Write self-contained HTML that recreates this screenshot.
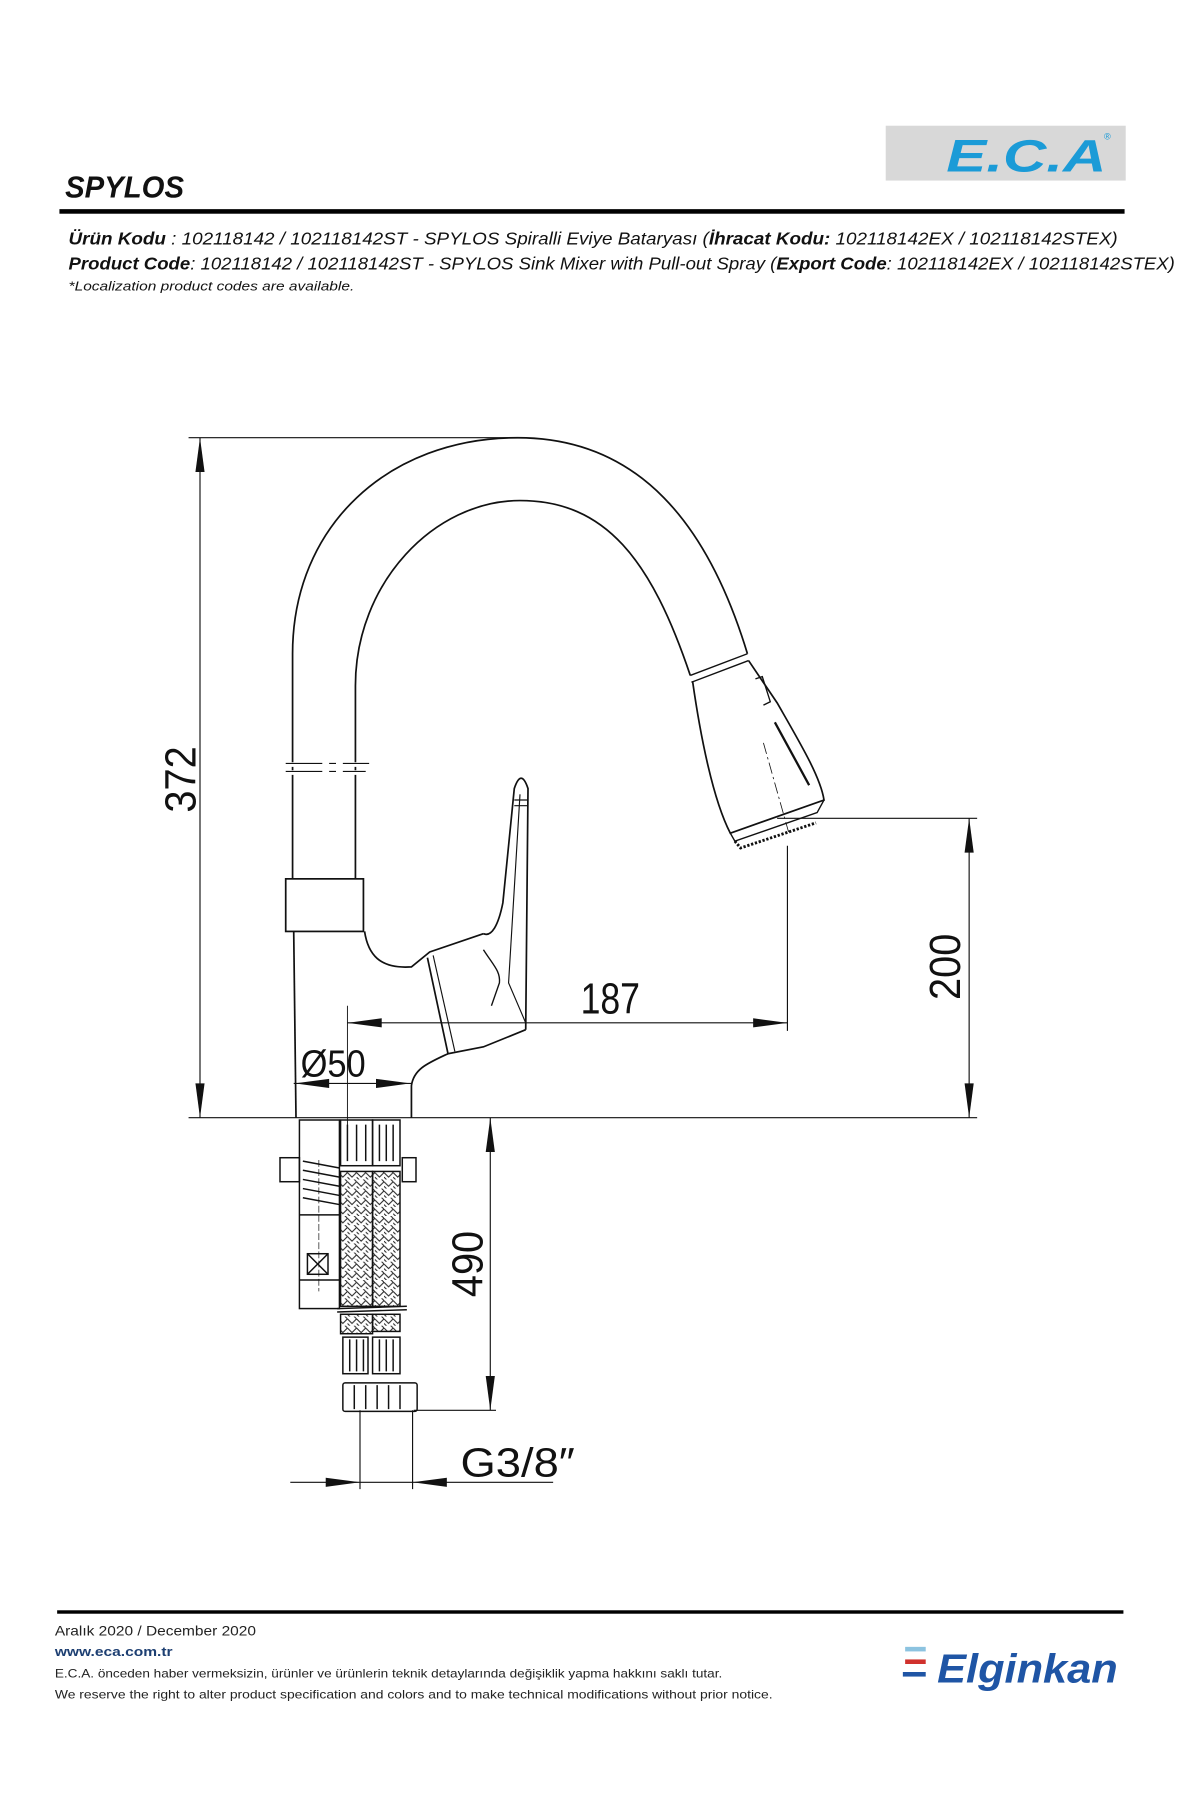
<!DOCTYPE html>
<html><head><meta charset="utf-8"><style>
html,body{margin:0;padding:0;background:#fff;}
svg{display:block;}
</style></head><body>
<svg width="1200" height="1800" viewBox="0 0 1050 1575" xmlns="http://www.w3.org/2000/svg" font-family="Liberation Sans, sans-serif">
<defs>
<pattern id="braid" width="8" height="8" patternUnits="userSpaceOnUse">
<path d="M0,2 L4,6 L8,2 M0,6 L4,10 M4,-2 L8,2" stroke="#222" stroke-width="0.9" fill="none"/>
</pattern>
</defs>
<!-- header -->
<rect x="775" y="110" width="210" height="48" fill="#d8d8d8"/>
<text x="828" y="150" font-size="40" font-weight="bold" font-style="italic" fill="#1b9bd7" textLength="140" lengthAdjust="spacingAndGlyphs">E.C.A</text>
<text x="966" y="122" font-size="8" fill="#1b9bd7">®</text>
<text x="57" y="173" font-size="27" font-weight="bold" font-style="italic" fill="#111" textLength="104" lengthAdjust="spacingAndGlyphs">SPYLOS</text>
<rect x="52" y="183" width="932" height="4" fill="#000"/>
<g font-size="15" font-style="italic" fill="#111">
<text x="60" y="214" textLength="918" lengthAdjust="spacingAndGlyphs"><tspan font-weight="bold">Ürün Kodu</tspan>    : 102118142 / 102118142ST - SPYLOS Spiralli Eviye Bataryası (<tspan font-weight="bold">İhracat Kodu:</tspan> 102118142EX / 102118142STEX)</text>
<text x="60" y="236" textLength="968" lengthAdjust="spacingAndGlyphs"><tspan font-weight="bold">Product Code</tspan>: 102118142 / 102118142ST - SPYLOS Sink Mixer with Pull-out Spray (<tspan font-weight="bold">Export Code</tspan>: 102118142EX / 102118142STEX)</text>
<text x="60" y="254" font-size="11" textLength="250" lengthAdjust="spacingAndGlyphs">*Localization product codes are available.</text>
</g>

<!-- drawing -->
<g stroke="#111" fill="none" stroke-width="1.5">
<!-- spout -->
<path d="M256,769 L256,572 C256,460 340,383 453,383 C560,383 620,460 654,572"/>
<path d="M311,769 L311,600 C311,510 380,438 455,438 C530,438 570,490 604,591"/>
<path d="M604,591 L654,572 M605,597 L655,578" stroke-width="1.2"/>
<path d="M606,596 C613,645 624,700 639,729 L721,700 C718,680 700,650 680,615 L655,578"/>
<path d="M639,729 L643,736 L715,711 L721,700" stroke-width="1.2"/>
<path d="M643,736 L648,742 L714,720" stroke-width="2.5" stroke-dasharray="2,1.5"/>
<path d="M661,594 L667,592 L674,614 L668,617" stroke-width="1.2"/>
<path d="M678,632 L708,687" stroke-width="2"/>
<path d="M668,650 L690,728" stroke-width="0.7" stroke-dasharray="10,3,2,3"/>
<!-- break marks -->
<path d="M250,669 L323,669 M250,676 L320,676" stroke="#fff" stroke-width="4"/>
<path d="M250,668 L282,668 M288,668 L294,668 M300,668 L323,668 M250,675 L282,675 M288,675 L294,675 M300,675 L320,675" stroke-width="1"/>
<!-- collar -->
<rect x="250" y="769" width="68" height="46"/>
<!-- body -->
<path d="M257,815 L259,978"/>
<path d="M319,815 C322,835 332,848 360,846 L376,833 L423,817"/>
<path d="M392,922 C375,930 362,935 360,950 L360,978"/>
<!-- hub -->
<path d="M374,838 L392,922 L423,916 L460,901"/>
<path d="M379,836 L398,920" stroke-width="1"/>
<!-- lever -->
<path d="M460,901 L462,690 Q456,672 450,690 L440,790 C436,810 430,820 423,817"/>
<path d="M423,831 C432,845 438,850 437,860 L430,880" stroke-width="1.2"/>
<path d="M455,695 L445,860 L460,895" stroke-width="1"/>
<path d="M450,700 L462,700 M450,705 L462,705" stroke-width="1"/>
<!-- centre line -->
<path d="M304,880 L304,1000" stroke-width="0.8"/>
</g>

<!-- below ground fittings -->
<g stroke="#111" fill="none" stroke-width="1.3">
<rect x="262" y="980" width="35" height="165"/>
<rect x="245" y="1013" width="17" height="21"/>
<rect x="352" y="1013" width="12" height="21"/>
<path d="M265,1016 L297,1022 M265,1024 L297,1030 M265,1032 L297,1038 M265,1040 L297,1046 M265,1048 L297,1054 M262,1063 L297,1063"/>
<rect x="269" y="1097" width="18" height="18"/>
<path d="M269,1097 L287,1115 M287,1097 L269,1115 M262,1120 L297,1120"/>
<path d="M279,1015 L279,1130" stroke-width="0.6" stroke-dasharray="6,2"/>
<!-- hoses -->
<rect x="298" y="980" width="28" height="40"/>
<rect x="326" y="980" width="24" height="40"/>
<path d="M304,984 L304,1016 M312,984 L312,1016 M320,984 L320,1016 M332,984 L332,1016 M338,984 L338,1016 M344,984 L344,1016"/>
<rect x="298" y="1025" width="28" height="118" fill="url(#braid)"/>
<rect x="326" y="1025" width="24" height="118" fill="url(#braid)"/>
<path d="M295,1145 L356,1143 M295,1148 L356,1146"/>
<rect x="298" y="1150" width="28" height="17" fill="url(#braid)"/>
<rect x="326" y="1150" width="24" height="15" fill="url(#braid)"/>
<rect x="300" y="1170" width="22" height="32"/>
<rect x="326" y="1170" width="24" height="32"/>
<path d="M306,1172 L306,1200 M312,1172 L312,1200 M318,1172 L318,1200 M332,1172 L332,1200 M338,1172 L338,1200 M344,1172 L344,1200"/>
<rect x="300" y="1210" width="65" height="25" rx="2"/>
<path d="M310,1212 L310,1233 M320,1212 L320,1233 M330,1212 L330,1233 M340,1212 L340,1233 M350,1212 L350,1233"/>
</g>

<!-- dimensions -->
<g stroke="#111" stroke-width="1" fill="none">
<path d="M165,383 L453,383"/>
<path d="M175,383 L175,978"/>
<path d="M165,978 L855,978"/>
<path d="M680,716 L855,716"/>
<path d="M848,716 L848,978"/>
<path d="M689,740 L689,902"/>
<path d="M304,895 L689,895"/>
<path d="M257,948 L360,948"/>
<path d="M429,978 L429,1234"/>
<path d="M362,1234 L434,1234"/>
<path d="M315,1234 L315,1303 M361,1234 L361,1303"/>
<path d="M254,1297 L484,1297"/>
</g>
<g fill="#111">
<path d="M175,383 L171,413 L179,413Z"/>
<path d="M175,978 L171,948 L179,948Z"/>
<path d="M848,716 L844,746 L852,746Z"/>
<path d="M848,978 L844,948 L852,948Z"/>
<path d="M304,895 L334,891 L334,899Z"/>
<path d="M689,895 L659,891 L659,899Z"/>
<path d="M258,948 L288,944 L288,952Z"/>
<path d="M359,948 L329,944 L329,952Z"/>
<path d="M429,978 L425,1008 L433,1008Z"/>
<path d="M429,1234 L425,1204 L433,1204Z"/>
<path d="M315,1297 L285,1293 L285,1301Z"/>
<path d="M361,1297 L391,1293 L391,1301Z"/>
</g>
<g font-size="38" fill="#111">
<text transform="translate(171,682) rotate(-90)" text-anchor="middle" textLength="58" lengthAdjust="spacingAndGlyphs">372</text>
<text transform="translate(840,846) rotate(-90)" text-anchor="middle" textLength="58" lengthAdjust="spacingAndGlyphs">200</text>
<text transform="translate(422,1106) rotate(-90)" text-anchor="middle" textLength="58" lengthAdjust="spacingAndGlyphs">490</text>
<text x="508" y="887" textLength="52" lengthAdjust="spacingAndGlyphs">187</text>
<text x="263" y="942" font-size="33" textLength="57" lengthAdjust="spacingAndGlyphs">Ø50</text>
<text x="403" y="1292" font-size="36" textLength="100" lengthAdjust="spacingAndGlyphs">G3/8″</text>
</g>

<!-- footer -->
<rect x="50" y="1409" width="933" height="3" fill="#000"/>
<g font-size="11.5" fill="#222">
<text x="48" y="1431" font-size="12.5" textLength="176" lengthAdjust="spacingAndGlyphs">Aralık 2020 / December 2020</text>
<text x="48" y="1449" font-weight="bold" fill="#1d3f72" textLength="103" lengthAdjust="spacingAndGlyphs">www.eca.com.tr</text>
<text x="48" y="1468" font-size="10.5" textLength="584" lengthAdjust="spacingAndGlyphs">E.C.A. önceden haber vermeksizin, ürünler ve ürünlerin teknik detaylarında değişiklik yapma hakkını saklı tutar.</text>
<text x="48" y="1486" font-size="10.5" textLength="628" lengthAdjust="spacingAndGlyphs">We reserve the right to alter product specification and colors and to make technical modifications without prior notice.</text>
</g>
<rect x="792" y="1441" width="18" height="4" fill="#8cc3e0"/>
<rect x="792" y="1452" width="18" height="4" fill="#d0312d"/>
<rect x="790" y="1463" width="20" height="4" fill="#1f55a5"/>
<text x="820" y="1472" font-size="36" font-weight="bold" font-style="italic" fill="#1f55a5" textLength="158" lengthAdjust="spacingAndGlyphs">Elginkan</text>
</svg>
</body></html>
